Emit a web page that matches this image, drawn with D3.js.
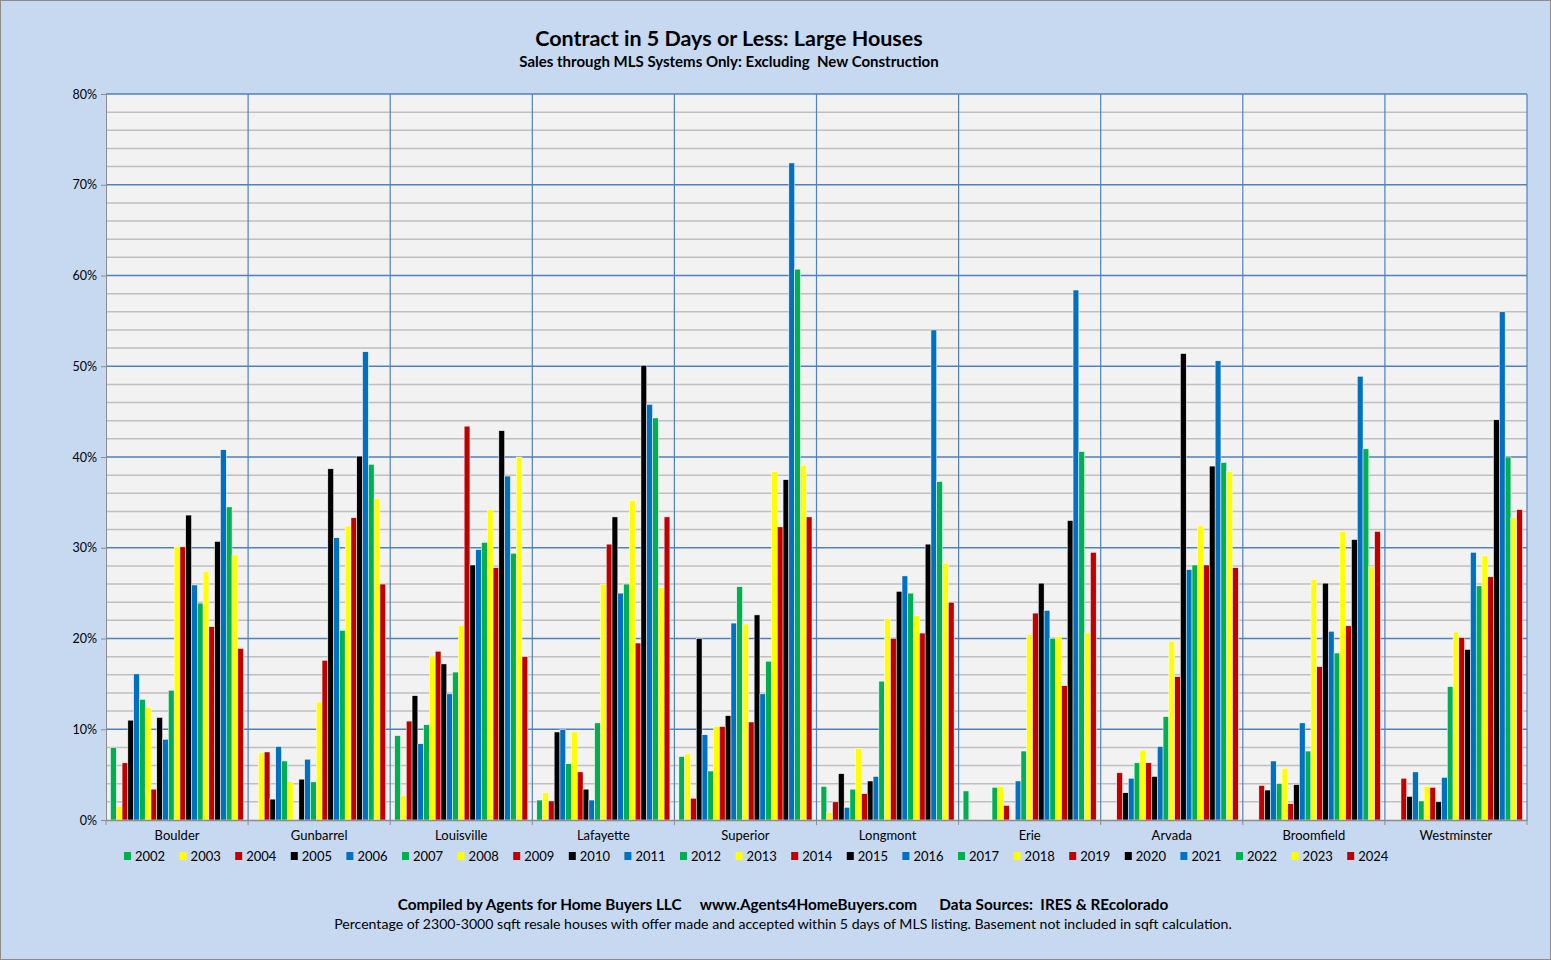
<!DOCTYPE html>
<html>
<head>
<meta charset="utf-8">
<script src="https://cdn.jsdelivr.net/npm/d3@7"></script>
<style>
  html, body { margin: 0; padding: 0; background: #C6D9F1; }
  svg { display: block; font-family: Lato, "Open Sans", sans-serif; }
  text { white-space: pre; }
</style>
</head>
<body>
<svg id="svg"></svg>
<script>
////////////////////////////////////////////////////////////////////////
// Data (percent of listings under contract in 5 days)

let cities = ["Boulder", "Gunbarrel", "Louisville", "Lafayette", "Superior",
              "Longmont", "Erie", "Arvada", "Broomfield", "Westminster"];

let years = d3.range(2002, 2025).map(String);

let boulder     = [8.0, 1.5, 6.3, 11.0, 16.1, 13.3, 12.4, 3.4, 11.3, 8.9, 14.3, 30.1, 30.1, 33.6, 25.9, 23.9, 27.4, 21.3, 30.7, 40.8, 34.5, 29.2, 18.9];
let gunbarrel   = [0, 7.4, 7.5, 2.3, 8.1, 6.5, 4.2, 0, 4.5, 6.7, 4.2, 13.0, 17.6, 38.7, 31.1, 20.9, 32.4, 33.3, 40.1, 51.6, 39.2, 35.4, 26.0];
let louisville  = [9.3, 2.7, 10.9, 13.7, 8.4, 10.5, 18.0, 18.6, 17.2, 13.9, 16.3, 21.4, 43.4, 28.1, 29.8, 30.6, 34.2, 27.8, 42.9, 37.9, 29.4, 40.0, 18.0];
let lafayette   = [2.2, 3.0, 2.1, 9.7, 10.0, 6.2, 9.7, 5.3, 3.4, 2.2, 10.7, 26.0, 30.4, 33.4, 25.0, 26.0, 35.2, 19.5, 50.1, 45.8, 44.3, 25.6, 33.4];
let superior    = [7.0, 7.3, 2.4, 20.0, 9.4, 5.4, 10.3, 10.3, 11.5, 21.7, 25.7, 21.6, 10.8, 22.6, 13.9, 17.5, 38.4, 32.3, 37.5, 72.4, 60.7, 39.1, 33.4];
let longmont    = [3.7, 0.8, 2.0, 5.1, 1.4, 3.4, 7.9, 2.9, 4.3, 4.8, 15.3, 22.2, 20.0, 25.2, 26.9, 25.0, 22.5, 20.6, 30.4, 54.0, 37.3, 28.3, 24.0];
let erie        = [3.2, 0, 0, 0, 0, 3.6, 3.7, 1.6, 0, 4.3, 7.6, 20.4, 22.8, 26.1, 23.1, 20.0, 20.2, 14.8, 33.0, 58.4, 40.6, 20.6, 29.5];
let arvada      = [0, 0, 5.2, 3.0, 4.6, 6.3, 7.7, 6.3, 4.8, 8.1, 11.4, 19.7, 15.8, 51.4, 27.6, 28.1, 32.4, 28.1, 39.0, 50.6, 39.4, 38.4, 27.8];
let broomfield  = [0, 0, 3.8, 3.3, 6.5, 4.0, 5.7, 1.8, 3.9, 10.7, 7.6, 26.5, 16.9, 26.1, 20.8, 18.4, 31.8, 21.4, 30.9, 48.9, 40.9, 27.9, 31.8];
let westminster = [0, 0, 4.6, 2.6, 5.3, 2.1, 3.7, 3.6, 2.0, 4.7, 14.7, 20.7, 20.1, 18.8, 29.5, 25.8, 29.1, 26.8, 44.1, 56.0, 40.0, 33.3, 34.2];

let cityValues = [boulder, gunbarrel, louisville, lafayette, superior,
                  longmont, erie, arvada, broomfield, westminster];

let yTicks = [0, 10, 20, 30, 40, 50, 60, 70, 80];

// Excel palette cycles every five years
let palette = ["#00B050", "#FFFF00", "#C00000", "#000000", "#0070C0"];

////////////////////////////////////////////////////////////////////////
// Layout

let width = 1551, height = 960;
let plot = { x1: 106, x2: 1527, y1: 94, y2: 820 };

let svg = d3.select("#svg")
            .attr("width", width)
            .attr("height", height);

svg.append("rect")
   .attr("x", 0.5).attr("y", 0.5)
   .attr("width", width - 1).attr("height", height - 1)
   .attr("fill", "#C6D9F1")
   .attr("stroke", "#8c8c8c");

let x0 = d3.scaleBand()
           .domain(cities)
           .range([plot.x1, plot.x2]);

let groupPad = 4.5;
let x1 = d3.scaleBand()
           .domain(years)
           .range([groupPad, x0.bandwidth() - groupPad]);

let y = d3.scaleLinear()
          .domain([0, 80])
          .range([plot.y2, plot.y1]);

let colour = d3.scaleOrdinal()
               .domain(years)
               .range(years.map((yr, i) => palette[i % 5]));

// plot background
svg.append("rect")
   .attr("x", plot.x1).attr("y", plot.y1)
   .attr("width", plot.x2 - plot.x1).attr("height", plot.y2 - plot.y1)
   .attr("fill", "#F2F2F2");

// minor gridlines every 2%
svg.append("g")
   .selectAll("line")
   .data(d3.range(2, 80, 2).filter(v => v % 10 !== 0))
   .enter().append("line")
   .attr("x1", plot.x1).attr("x2", plot.x2)
   .attr("y1", d => y(d)).attr("y2", d => y(d))
   .attr("stroke", "#BFBFBF")
   .attr("stroke-width", 1.5);

// major gridlines every 10%
svg.append("g")
   .selectAll("line")
   .data(yTicks.filter(v => v > 0))
   .enter().append("line")
   .attr("x1", plot.x1).attr("x2", plot.x2)
   .attr("y1", d => y(d)).attr("y2", d => y(d))
   .attr("stroke", "#4F81BD")
   .attr("stroke-width", 1.5);

// vertical separators between cities
svg.append("g")
   .selectAll("line")
   .data(cities.slice(1).concat(["end"]))
   .enter().append("line")
   .attr("x1", d => d === "end" ? plot.x2 : x0(d))
   .attr("x2", d => d === "end" ? plot.x2 : x0(d))
   .attr("y1", plot.y1).attr("y2", plot.y2)
   .attr("stroke", "#4F81BD")
   .attr("stroke-width", 1.2);

////////////////////////////////////////////////////////////////////////
// Bars

let groups = svg.append("g")
                .selectAll("g")
                .data(cities)
                .enter().append("g")
                .attr("transform", d => "translate(" + x0(d) + ",0)");

groups.selectAll("rect")
      .data((c, i) => cityValues[i].map((v, j) => ({ year: years[j], value: v })))
      .enter().append("rect")
      .filter(d => d.value > 0)
      .attr("x", d => x1(d.year))
      .attr("width", x1.bandwidth())
      .attr("y", d => y(d.value))
      .attr("height", d => y(0) - y(d.value))
      .attr("fill", d => colour(d.year))
      .attr("stroke", "#ffffff")
      .attr("stroke-width", 0.5);

////////////////////////////////////////////////////////////////////////
// Axes

let yAxis = svg.append("g")
               .attr("transform", "translate(" + plot.x1 + ",0)")
               .call(d3.axisLeft(y).tickValues(yTicks).tickSize(5)
                       .tickFormat(d => d + "%"));
yAxis.select(".domain").attr("stroke", "#8c8c8c");
yAxis.selectAll(".tick line").attr("stroke", "#8c8c8c");
yAxis.selectAll("text")
     .attr("font-family", "Lato, 'Open Sans', sans-serif")
     .attr("font-size", 12.5)
     .attr("fill", "#000")
     .attr("x", -9);

let xAxis = svg.append("g")
               .attr("transform", "translate(0," + plot.y2 + ")")
               .call(d3.axisBottom(x0).tickSize(0).tickPadding(11));
xAxis.select(".domain").attr("stroke", "#8c8c8c").attr("stroke-width", 1.5);
xAxis.selectAll("text")
     .attr("font-family", "Lato, 'Open Sans', sans-serif")
     .attr("font-size", 13)
     .attr("fill", "#000");

// small ticks at city boundaries
svg.append("g")
   .selectAll("line")
   .data(cities.concat(["end"]))
   .enter().append("line")
   .attr("x1", d => d === "end" ? plot.x2 : x0(d))
   .attr("x2", d => d === "end" ? plot.x2 : x0(d))
   .attr("y1", plot.y2).attr("y2", plot.y2 + 5)
   .attr("stroke", "#8c8c8c");

////////////////////////////////////////////////////////////////////////
// Legend

let legendX = d3.scalePoint()
                .domain(years)
                .range([124, 124 + 55.6 * 22]);

let legend = svg.append("g")
                .selectAll("g")
                .data(years)
                .enter().append("g")
                .attr("transform", d => "translate(" + legendX(d) + ",856)");

legend.append("rect")
      .attr("x", 0).attr("y", -4)
      .attr("width", 7).attr("height", 8)
      .attr("fill", d => colour(d));

legend.append("text")
      .attr("x", 11).attr("y", 0)
      .attr("dy", "0.35em")
      .attr("font-size", 13)
      .text(d => d);

////////////////////////////////////////////////////////////////////////
// Titles and footer

svg.append("text")
   .attr("x", 729).attr("y", 46)
   .attr("text-anchor", "middle")
   .attr("font-size", 21.5)
   .attr("font-weight", "bold")
   .text("Contract in 5 Days or Less: Large Houses");

svg.append("text")
   .attr("x", 729).attr("y", 67)
   .attr("text-anchor", "middle")
   .attr("font-size", 15)
   .attr("font-weight", "bold")
   .text("Sales through MLS Systems Only: Excluding  New Construction");

svg.append("text")
   .attr("x", 783).attr("y", 910)
   .attr("text-anchor", "middle")
   .attr("font-size", 15.3)
   .attr("font-weight", "bold")
   .text("Compiled by Agents for Home Buyers LLC     www.Agents4HomeBuyers.com      Data Sources:  IRES & REcolorado");

svg.append("text")
   .attr("x", 783).attr("y", 929)
   .attr("text-anchor", "middle")
   .attr("font-size", 14.1)
   .text("Percentage of 2300-3000 sqft resale houses with offer made and accepted within 5 days of MLS listing. Basement not included in sqft calculation.");
</script>
</body>
</html>
